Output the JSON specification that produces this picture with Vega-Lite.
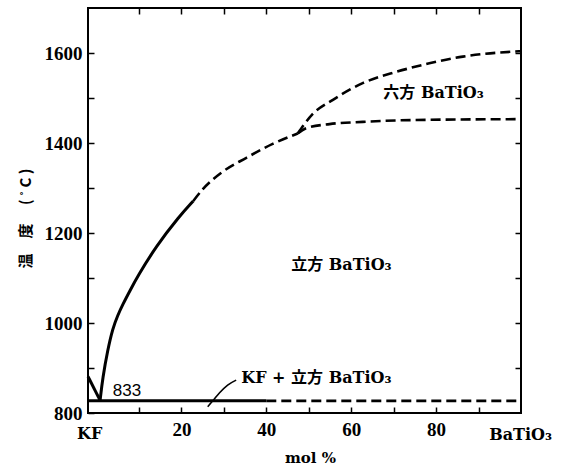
{
  "$schema": "https://vega.github.io/schema/vega-lite/v6.json",
  "width": 433,
  "height": 405,
  "autosize": "none",
  "padding": {"left": 88, "top": 8, "right": 41, "bottom": 55},
  "background": "white",
  "config": {
    "view": {"stroke": "black", "strokeWidth": 2},
    "axis": {
      "domain": false,
      "grid": false,
      "labelFont": "Liberation Serif",
      "labelFontWeight": "bold",
      "labelFontSize": 19,
      "labelColor": "black",
      "tickColor": "black",
      "tickWidth": 1.5,
      "tickSize": -6,
      "titleColor": "black"
    }
  },
  "datasets": {
    "curves": [
      {"s": "kf", "o": 1, "x": -2, "y": 881},
      {"s": "kf", "o": 2, "x": 0.85, "y": 828},
      {"s": "liqA", "o": 1, "x": 0.85, "y": 828},
      {"s": "liqA", "o": 2, "x": 1.46, "y": 878},
      {"s": "liqA", "o": 3, "x": 2.64, "y": 940},
      {"s": "liqA", "o": 4, "x": 3.82, "y": 988},
      {"s": "liqA", "o": 5, "x": 5.0, "y": 1017},
      {"s": "liqA", "o": 6, "x": 6.17, "y": 1041},
      {"s": "liqA", "o": 7, "x": 8.0, "y": 1074},
      {"s": "liqA", "o": 8, "x": 9.7, "y": 1104},
      {"s": "liqA", "o": 9, "x": 14.0, "y": 1170},
      {"s": "liqA", "o": 10, "x": 19.5, "y": 1237},
      {"s": "liqA", "o": 11, "x": 22.8, "y": 1271},
      {"s": "sol", "o": 1, "x": -2, "y": 827},
      {"s": "sol", "o": 2, "x": 40, "y": 827}
    ],
    "dashed": [
      {"s": "liqB", "o": 1, "x": 22.8, "y": 1271},
      {"s": "liqB", "o": 2, "x": 25.0, "y": 1297},
      {"s": "liqB", "o": 3, "x": 29.7, "y": 1336},
      {"s": "liqB", "o": 4, "x": 35.3, "y": 1367},
      {"s": "liqB", "o": 5, "x": 41.5, "y": 1398},
      {"s": "liqB", "o": 6, "x": 47.4, "y": 1421},
      {"s": "hex", "o": 1, "x": 47.4, "y": 1421},
      {"s": "hex", "o": 2, "x": 50.9, "y": 1464},
      {"s": "hex", "o": 3, "x": 55.7, "y": 1496},
      {"s": "hex", "o": 4, "x": 62.7, "y": 1533},
      {"s": "hex", "o": 5, "x": 70.6, "y": 1558},
      {"s": "hex", "o": 6, "x": 78.4, "y": 1577},
      {"s": "hex", "o": 7, "x": 86.3, "y": 1592},
      {"s": "hex", "o": 8, "x": 98.1, "y": 1603},
      {"s": "hex", "o": 9, "x": 100, "y": 1604},
      {"s": "cub", "o": 1, "x": 47.4, "y": 1421},
      {"s": "cub", "o": 2, "x": 49.4, "y": 1433},
      {"s": "cub", "o": 3, "x": 54.9, "y": 1442},
      {"s": "cub", "o": 4, "x": 62.7, "y": 1447},
      {"s": "cub", "o": 5, "x": 74.5, "y": 1451},
      {"s": "cub", "o": 6, "x": 100, "y": 1453},
      {"s": "solB", "o": 1, "x": 40, "y": 827},
      {"s": "solB", "o": 2, "x": 100, "y": 827}
    ],
    "arrow": [
      {"o": 1, "x": 26.2, "y": 814},
      {"o": 2, "x": 27.4, "y": 827},
      {"o": 3, "x": 29.0, "y": 845},
      {"o": 4, "x": 30.9, "y": 862},
      {"o": 5, "x": 32.9, "y": 873}
    ],
    "labels": [
      {"t": "立方 BaTiO₃", "x": 57.7, "y": 1129},
      {"t": "六方   BaTiO₃", "x": 79.4, "y": 1511}
    ],
    "leftlabels": [
      {"t": "KF + 立方   BaTiO₃", "x": 34.1, "y": 878}
    ],
    "ends": [
      {"t": "KF", "x": -1.6, "y": 753},
      {"t": "BaTiO₃", "x": 99.9, "y": 751}
    ],
    "num": [
      {"t": "833", "x": 7.2, "y": 849}
    ]
  },
  "layer": [
    {
      "data": {"name": "curves"},
      "mark": {"type": "line", "color": "black", "strokeWidth": 3, "interpolate": "basis"},
      "encoding": {
        "x": {
          "field": "x", "type": "quantitative",
          "scale": {"domain": [-2, 100], "nice": false, "zero": false},
          "axis": {
            "orient": "bottom",
            "values": [10, 20, 30, 40, 50, 60, 70, 80, 90],
            "labelExpr": "datum.value % 20 == 0 ? datum.label : ''",
            "labelPadding": 13,
            "labelBaseline": "top",
            "title": "mol %",
            "titleFont": "DejaVu Serif",
            "titleFontWeight": "bold",
            "titleFontSize": 15,
            "titleX": 222,
            "titleY": 44,
            "titleBaseline": "middle"
          }
        },
        "y": {
          "field": "y", "type": "quantitative",
          "scale": {"domain": [800, 1700], "nice": false, "zero": false},
          "axis": {
            "orient": "left",
            "values": [800, 900, 1000, 1100, 1200, 1300, 1400, 1500, 1600],
            "labelExpr": "datum.value % 200 == 0 ? datum.label : ''",
            "format": "d",
            "labelPadding": 12,
            "labelBaseline": "middle",
            "title": "温　度　 ( ˚ C )",
            "titleFont": "Noto Sans CJK JP",
            "titleFontWeight": "bold",
            "titleFontSize": 15,
            "titleAngle": -90,
            "titleX": -63,
            "titleY": 210,
            "titleAlign": "center",
            "titleBaseline": "middle"
          }
        },
        "detail": {"field": "s"},
        "order": {"field": "o"}
      }
    },
    {
      "data": {"name": "dashed"},
      "mark": {"type": "line", "color": "black", "strokeWidth": 2.6, "strokeDash": [10, 5], "interpolate": "monotone"},
      "encoding": {
        "x": {
          "field": "x", "type": "quantitative",
          "axis": {
            "orient": "top",
            "values": [10, 20, 30, 40, 50, 60, 70, 80, 90],
            "labels": false,
            "title": null
          }
        },
        "y": {
          "field": "y", "type": "quantitative",
          "axis": {
            "orient": "right",
            "values": [900, 1000, 1100, 1200, 1300, 1400, 1500, 1600],
            "labels": false,
            "title": null
          }
        },
        "detail": {"field": "s"},
        "order": {"field": "o"}
      }
    },
    {
      "data": {"name": "arrow"},
      "mark": {"type": "line", "color": "black", "strokeWidth": 1.6, "interpolate": "monotone"},
      "encoding": {
        "x": {"field": "x", "type": "quantitative", "axis": null},
        "y": {"field": "y", "type": "quantitative", "axis": null},
        "order": {"field": "o"}
      }
    },
    {
      "data": {"name": "labels"},
      "mark": {"type": "text", "color": "black", "font": "DejaVu Serif, Noto Sans CJK JP", "fontWeight": "bold", "fontSize": 16, "baseline": "middle", "align": "center"},
      "encoding": {
        "x": {"field": "x", "type": "quantitative", "axis": null},
        "y": {"field": "y", "type": "quantitative", "axis": null},
        "text": {"field": "t"}
      }
    },
    {
      "data": {"name": "leftlabels"},
      "mark": {"type": "text", "color": "black", "font": "DejaVu Serif, Noto Sans CJK JP", "fontWeight": "bold", "fontSize": 16, "baseline": "middle", "align": "left"},
      "encoding": {
        "x": {"field": "x", "type": "quantitative", "axis": null},
        "y": {"field": "y", "type": "quantitative", "axis": null},
        "text": {"field": "t"}
      }
    },
    {
      "data": {"name": "ends"},
      "mark": {"type": "text", "color": "black", "font": "DejaVu Serif", "fontWeight": "bold", "fontSize": 16, "baseline": "middle", "align": "center"},
      "encoding": {
        "x": {"field": "x", "type": "quantitative", "axis": null},
        "y": {"field": "y", "type": "quantitative", "axis": null},
        "text": {"field": "t"}
      }
    },
    {
      "data": {"name": "num"},
      "mark": {"type": "text", "color": "black", "font": "Liberation Sans Narrow, Liberation Sans", "fontSize": 17, "baseline": "middle", "align": "center"},
      "encoding": {
        "x": {"field": "x", "type": "quantitative", "axis": null},
        "y": {"field": "y", "type": "quantitative", "axis": null},
        "text": {"field": "t"}
      }
    }
  ],
  "resolve": {"axis": {"x": "independent", "y": "independent"}}
}
